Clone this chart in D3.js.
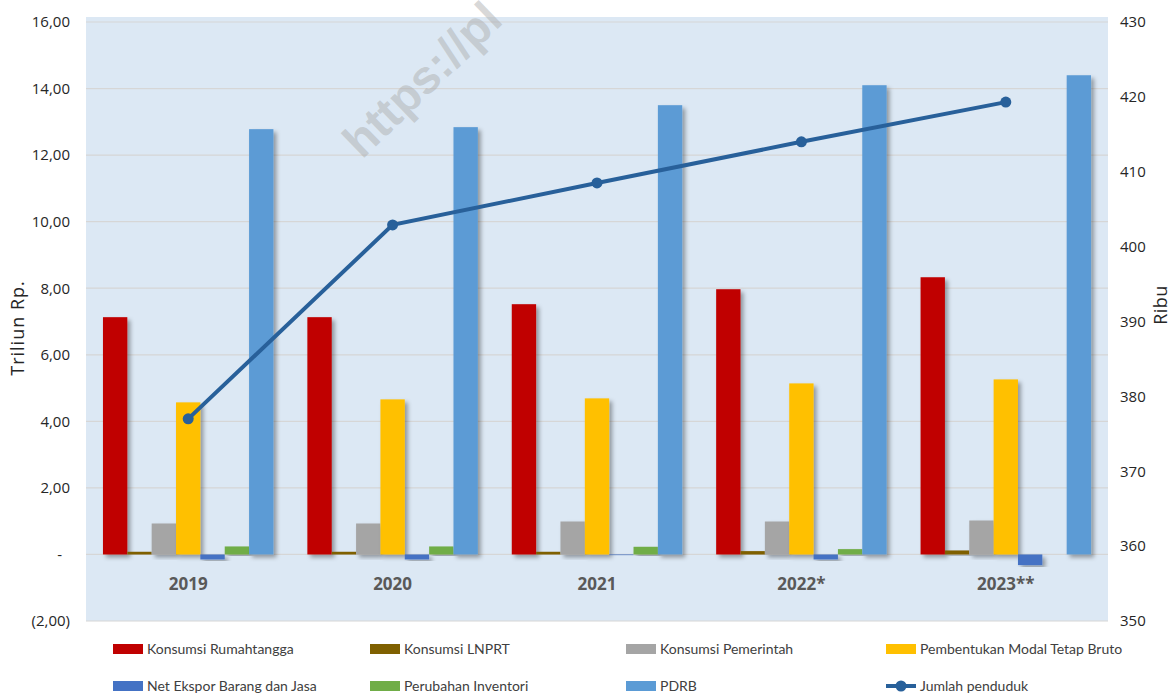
<!DOCTYPE html>
<html><head><meta charset="utf-8">
<script src="https://cdn.jsdelivr.net/npm/d3@7"></script>
<style>body{margin:0;background:#fff}svg{display:block}</style>
</head><body><svg id="c" width="1172" height="696"></svg>
<script>
const categories = ["2019","2020","2021","2022*","2023**"];
const seriesNames = ["Konsumsi Rumahtangga","Konsumsi LNPRT","Konsumsi Pemerintah","Pembentukan Modal Tetap Bruto","Net Ekspor Barang dan Jasa","Perubahan Inventori","PDRB"];
const seriesColors = ["#c00000","#7f6000","#a5a5a5","#ffc000","#4472c4","#70ad47","#5b9bd5"];
const konsumsiRT   = [7.13, 7.13, 7.52, 7.97, 8.33];
const konsumsiLNPRT= [0.08, 0.08, 0.08, 0.10, 0.12];
const konsumsiPem  = [0.93, 0.93, 0.99, 0.99, 1.02];
const pmtb         = [4.57, 4.66, 4.69, 5.14, 5.26];
const netEkspor    = [-0.15, -0.15, -0.02, -0.15, -0.32];
const inventori    = [0.24, 0.24, 0.23, 0.16, 0.00];
const pdrb         = [12.78, 12.84, 13.50, 14.10, 14.40];
const penduduk     = [377.0, 402.9, 408.5, 414.0, 419.3];
const leftTicks  = [-2,0,2,4,6,8,10,12,14,16];
const rightTicks = [350,360,370,380,390,400,410,420,430];
const lineName = "Jumlah penduduk";
const lineColor = "#28609a";

const series = [konsumsiRT,konsumsiLNPRT,konsumsiPem,pmtb,netEkspor,inventori,pdrb];
const svg = d3.select("#c");
const font = "'Open Sans',sans-serif";
const legFont = "Lato,'Open Sans',sans-serif";
const L=86, R=1108, T=22, B=621;

const defs = svg.append("defs");
const f = defs.append("filter").attr("id","sh").attr("x","-20%").attr("y","-5%").attr("width","160%").attr("height","120%");
f.append("feDropShadow").attr("dx",3).attr("dy",3).attr("stdDeviation",2).attr("flood-color","#000").attr("flood-opacity",0.35);

svg.append("rect").attr("x",L).attr("y",T-5).attr("width",R-L).attr("height",B-T+5).attr("fill","#dce8f4");

const y = d3.scaleLinear().domain([-2,16]).range([B,T]);
const y2 = d3.scaleLinear().domain([350,430]).range([B,T]);
const x0 = d3.scaleBand().domain(categories).range([L,R]).paddingInner(0.166).paddingOuter(0.083);
const x1 = d3.scaleBand().domain(d3.range(series.length)).range([0,x0.bandwidth()]);

// grid
svg.append("g").selectAll("line").data(leftTicks).join("line")
  .attr("x1",L).attr("x2",R).attr("y1",d=>y(d)).attr("y2",d=>y(d))
  .attr("stroke","#d6d6d6").attr("stroke-width",1.2);

// watermark
svg.append("text").attr("transform","translate(362,160) rotate(-44)")
  .attr("font-family","'Liberation Sans',Arial,sans-serif").attr("font-weight","bold").attr("font-size",47)
  .attr("fill","#a8a8a8").attr("fill-opacity",0.45).text("https://pl");

// bars
const g = svg.append("g");
categories.forEach((c,i)=>{
  series.forEach((s,j)=>{
    const v=s[i];
    if(v===0) return;
    g.append("rect").attr("x",x0(c)+x1(j)).attr("width",x1.bandwidth())
      .attr("y",y(Math.max(0,v))).attr("height",Math.abs(y(v)-y(0)))
      .attr("fill",seriesColors[j]).attr("filter","url(#sh)");
  });
});

// left axis
const ax = d3.axisLeft(y).tickValues(leftTicks).tickSize(0).tickPadding(16)
  .tickFormat(d=> d===0?"-": d<0? "("+d3.format(".2f")(-d).replace(".",",")+")" : d3.format(".2f")(d).replace(".",","));
const ga = svg.append("g").attr("transform",`translate(${L},0)`).call(ax);
ga.select(".domain").remove();
ga.selectAll("text").attr("font-family",font).attr("font-size",15).attr("fill","#262626");
ga.selectAll(".tick").filter(d=>d===0).select("text").attr("dx",-8);

const ax2 = d3.axisRight(y2).tickValues(rightTicks).tickSize(0).tickPadding(12);
const gb = svg.append("g").attr("transform",`translate(${R},0)`).call(ax2);
gb.select(".domain").remove();
gb.selectAll("text").attr("font-family",font).attr("font-size",15).attr("fill","#262626");

// x labels
svg.append("g").selectAll("text").data(categories).join("text")
  .attr("x",d=>x0(d)+x0.bandwidth()/2).attr("y",590).attr("text-anchor","middle")
  .attr("font-family",font).attr("font-weight","bold").attr("font-size",17).attr("fill","#595959").text(d=>d);

// axis titles
svg.append("text").attr("transform","translate(24,328) rotate(-90)").attr("text-anchor","middle")
  .attr("font-family","'Open Sans',sans-serif").attr("font-size",18).attr("letter-spacing",1).attr("fill","#262626").text("Triliun Rp.");
svg.append("text").attr("transform","translate(1167,305) rotate(-90)").attr("text-anchor","middle")
  .attr("font-family","'Open Sans',sans-serif").attr("font-size",18).attr("letter-spacing",0.5).attr("fill","#262626").text("Ribu");

// line
const xc = d=>x0(d)+x0.bandwidth()/2;
const line = d3.line().x((d,i)=>xc(categories[i])).y(d=>y2(d));
svg.append("path").datum(penduduk).attr("d",line).attr("fill","none").attr("stroke",lineColor).attr("stroke-width",4);
svg.append("g").selectAll("circle").data(penduduk).join("circle")
  .attr("cx",(d,i)=>xc(categories[i])).attr("cy",d=>y2(d)).attr("r",5.5).attr("fill",lineColor);

// legend
const legItems = seriesNames.map((n,i)=>({name:n,color:seriesColors[i],type:"bar"})).concat([{name:lineName,color:lineColor,type:"line"}]);
const colX=[113,370,626,886], rowY=[649,686];
legItems.forEach((d,i)=>{
  const lx=colX[i%4], ly=rowY[Math.floor(i/4)];
  const gg=svg.append("g");
  if(d.type==="bar"){
    gg.append("rect").attr("x",lx).attr("y",ly-5).attr("width",30).attr("height",10).attr("fill",d.color);
  } else {
    gg.append("line").attr("x1",lx).attr("x2",lx+30).attr("y1",ly).attr("y2",ly).attr("stroke",d.color).attr("stroke-width",4);
    gg.append("circle").attr("cx",lx+15).attr("cy",ly).attr("r",5.5).attr("fill",d.color);
  }
  gg.append("text").attr("x",lx+34).attr("y",ly+5).attr("font-family",legFont).attr("font-size",14)
    .attr("fill","#404040").text(d.name);
});
</script></body></html>
